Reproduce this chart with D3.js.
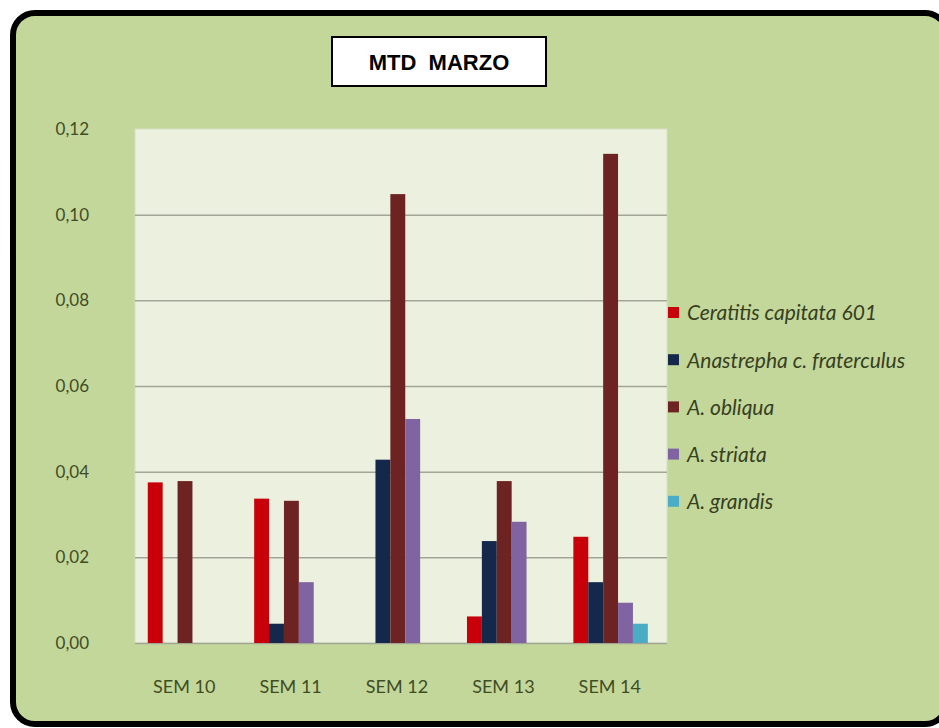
<!DOCTYPE html>
<html><head><meta charset="utf-8">
<script src="https://cdn.jsdelivr.net/npm/d3@7"></script>
<style>body{margin:0;background:#ffffff;overflow:hidden}</style>
</head><body>
<svg id="chart" width="939" height="728"></svg>
<script>
// ---- data ----
const categories = ["SEM 10", "SEM 11", "SEM 12", "SEM 13", "SEM 14"];
const seriesNames = ["Ceratitis capitata 601", "Anastrepha c. fraterculus", "A. obliqua", "A. striata", "A. grandis"];
const ceratitis = [0.0375, 0.0337, 0.0, 0.0062, 0.0248];
const anastrepha = [0.0, 0.0045, 0.0428, 0.0238, 0.0142];
const obliqua = [0.0378, 0.0332, 0.1048, 0.0378, 0.1142];
const striata = [0.0, 0.0142, 0.0523, 0.0283, 0.0094];
const grandis = [0.0, 0.0, 0.0, 0.0, 0.0045];
const yTicks = [0.00, 0.02, 0.04, 0.06, 0.08, 0.10, 0.12];
const titleText = "MTD  MARZO";

const seriesValues = [ceratitis, anastrepha, obliqua, striata, grandis];
const colors = ["#c8000a", "#14284b", "#6e2323", "#8064a2", "#4bacc6"];

// ---- layout ----
const svg = d3.select("#chart");
const plot = {left: 135, right: 667, top: 129, bottom: 643};

// outer frame
svg.append("rect")
  .attr("x", 13).attr("y", 13).attr("width", 934).attr("height", 711)
  .attr("rx", 22).attr("ry", 22)
  .attr("fill", "#c4d79b").attr("stroke", "#000").attr("stroke-width", 6);

// plot area
svg.append("rect")
  .attr("x", plot.left).attr("y", plot.top)
  .attr("width", plot.right - plot.left).attr("height", plot.bottom - plot.top)
  .attr("fill", "#ebf1de").attr("stroke", "#d6dfc4").attr("stroke-width", 1);

const x0 = d3.scaleBand().domain(categories).range([plot.left, plot.right]).padding(0);
const bw = x0.bandwidth();
const x1 = d3.scaleBand().domain(seriesNames).range([bw * 0.12, bw * 0.82]).padding(0);
const y = d3.scaleLinear().domain([0, 0.12]).range([plot.bottom, plot.top]);

const locale = d3.formatLocale({decimal: ",", thousands: ".", grouping: [3], currency: ["", "€"]});
const fmt = locale.format(".2f");

// gridlines + y labels via axis
const yAxis = d3.axisLeft(y).tickValues(yTicks).tickFormat(fmt)
  .tickSize(-(plot.right - plot.left)).tickPadding(46);
const gy = svg.append("g").attr("transform", `translate(${plot.left},0)`).call(yAxis);
gy.select(".domain").remove();
gy.selectAll(".tick line").attr("stroke", "#a3a697").attr("stroke-width", 1.5)
  .attr("opacity", d => (d === 0.12 ? 0 : 1));
gy.selectAll(".tick text")
  .attr("font-family", "Lato, 'Noto Sans', sans-serif").attr("font-size", 17)
  .attr("fill", "#3f4d25");

// bars
const rows = categories.map((c, i) => ({cat: c, vals: seriesNames.map((s, k) => ({s, k, v: seriesValues[k][i]}))}));
const g = svg.append("g");
g.selectAll("g.cat").data(rows).join("g").attr("class", "cat")
  .attr("transform", d => `translate(${x0(d.cat)},0)`)
  .selectAll("rect").data(d => d.vals.filter(e => e.v > 0)).join("rect")
  .attr("x", d => x1(d.s)).attr("width", x1.bandwidth())
  .attr("y", d => y(d.v)).attr("height", d => y(0) - y(d.v))
  .attr("fill", d => colors[d.k]);

// x axis labels
const xAxis = d3.axisBottom(x0).tickSize(0).tickPadding(37);
const gx = svg.append("g").attr("transform", `translate(-4,${plot.bottom})`).call(xAxis);
gx.select(".domain").remove();
gx.selectAll(".tick text")
  .attr("font-family", "Lato, 'Noto Sans', sans-serif").attr("font-size", 18)
  .attr("fill", "#3f4d25");

// legend
const leg = svg.append("g").attr("transform", "translate(668,313)");
const li = leg.selectAll("g").data(seriesNames).join("g")
  .attr("transform", (d, i) => `translate(0,${i * 47.2})`);
li.append("rect").attr("x", 0).attr("y", -6).attr("width", 11).attr("height", 11)
  .attr("fill", (d, i) => colors[i]);
li.append("text").attr("x", 19).attr("y", 0).attr("dy", "0.35em")
  .attr("font-family", "Lato, 'Noto Sans', sans-serif").attr("font-style", "italic")
  .attr("font-size", 21).attr("fill", "#36401f").text(d => d);

// title box
svg.append("rect").attr("x", 332).attr("y", 37).attr("width", 214).attr("height", 49)
  .attr("fill", "#ffffff").attr("stroke", "#000").attr("stroke-width", 2);
svg.append("text").attr("x", 439).attr("y", 62).attr("dy", "0.35em")
  .attr("text-anchor", "middle")
  .attr("font-family", "'Liberation Sans', Arial, sans-serif").attr("font-weight", "bold")
  .attr("font-size", 22).attr("fill", "#000").attr("xml:space", "preserve")
  .style("white-space", "pre").text(titleText);
</script>
</body></html>
